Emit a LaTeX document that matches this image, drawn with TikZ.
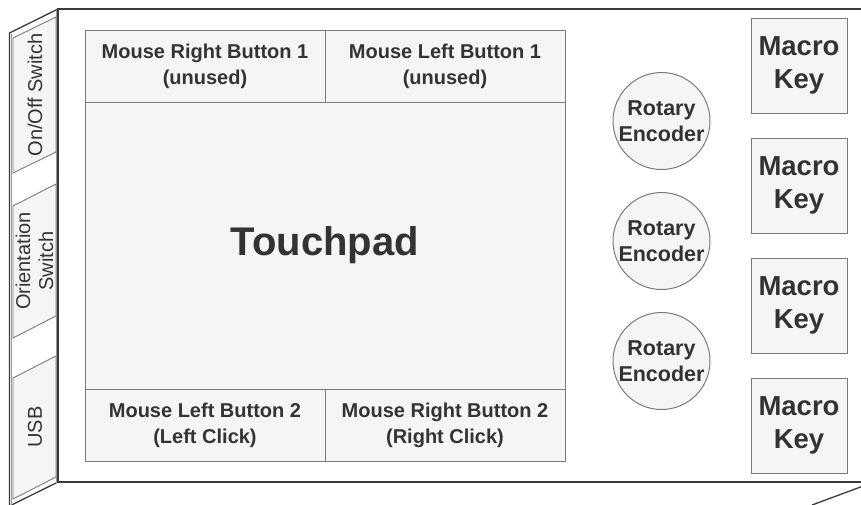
\documentclass[tikz,border=0pt]{standalone}
\usepackage{fontspec}
\setmainfont{Liberation Sans}
\definecolor{cellfill}{HTML}{F5F5F5}
\definecolor{cellline}{HTML}{7A7A7A}
\definecolor{txt}{HTML}{333333}
\definecolor{edgedark}{HTML}{3A3A3A}
\definecolor{edgelight}{HTML}{9A9A9A}
\begin{document}
\begin{tikzpicture}[x=1pt,y=-1pt,
  cell/.style={draw=cellline, fill=cellfill, line width=1pt, rectangle, inner sep=0pt, text=txt, align=center},
  btntext/.style={font=\bfseries\fontsize{20}{26}\selectfont},
  macrobox/.style={cell, minimum width=96pt, minimum height=95pt, font=\bfseries\fontsize{27.5}{33}\selectfont},
  encoder/.style={draw=cellline, fill=cellfill, line width=1pt, circle, minimum size=97pt, inner sep=0pt, text=txt, align=center, font=\bfseries\fontsize{21.5}{25.5}\selectfont},
  sidebox/.style={draw=cellline, fill=cellfill, line width=0.9pt},
  sidetext/.style={text=txt, align=center, rotate=90, inner sep=0pt, font=\fontsize{20}{23}\selectfont},
  cubeedge/.style={draw=edgedark, line width=1.3pt},
  cubeinner/.style={draw=edgelight, line width=0.8pt}]
\useasboundingbox (0,0) rectangle (861,504);
\begin{scope}
\clip (0,0) rectangle (861,504);
% cube outline
\coordinate (ftl) at (58,9);
\coordinate (fbl) at (58,482);
\coordinate (ftr) at (880,9);
\coordinate (fbr) at (880,482);
\coordinate (btl) at (9.5,33);
\coordinate (bbl) at (9.5,506);
\coordinate (brA) at (874,482);
\coordinate (brB) at (812,505);
\draw[cubeedge] (ftr) -- (ftl) -- (fbl) -- (fbr);
\draw[cubeedge] (ftl) -- (btl) -- (bbl);
\draw[cubeedge] (fbl) -- (bbl);
\draw[cubeinner] (11.8,34) -- (11.8,506);
\draw[cubeinner] (56,10) -- (56,483);
\draw[cubeedge] (brA) -- (brB);
\end{scope}
% side switches
\draw[sidebox] (13,38) -- (56,17) -- (56,152) -- (13,173) -- cycle;
\draw[sidebox] (13,206) -- (56,184) -- (56,316) -- (13,338) -- cycle;
\draw[sidebox] (13,378) -- (56,356) -- (56,477) -- (13,499) -- cycle;
\node[sidetext] (onoff) at (35,95) {On/Off Switch};
\node[sidetext] (orient) at (34.5,261) {Orientation\\Switch};
\node[sidetext] (usb) at (35,427) {USB};
% touchpad
\node[cell, minimum width=480pt, minimum height=287pt, font=\bfseries\fontsize{40}{48}\selectfont] (pad) at (325,245.5) {Touchpad};
\node[cell, btntext, minimum width=240pt, minimum height=72pt] (mr1) at (205,66) {Mouse Right Button 1\\(unused)};
\node[cell, btntext, minimum width=240pt, minimum height=72pt] (ml1) at (445,66) {Mouse Left Button 1\\(unused)};
\node[cell, btntext, minimum width=240pt, minimum height=72pt] (ml2) at (205,425) {Mouse Left Button 2\\(Left Click)};
\node[cell, btntext, minimum width=240pt, minimum height=72pt] (mr2) at (445,425) {Mouse Right Button 2\\(Right Click)};
% encoders
\node[encoder] (enc1) at (661.5,121) {Rotary\\Encoder};
\node[encoder] (enc2) at (661.5,241) {Rotary\\Encoder};
\node[encoder] (enc3) at (661.5,361) {Rotary\\Encoder};
% macro keys
\node[macrobox] (mk1) at (799,65.5) {Macro\\Key};
\node[macrobox] (mk2) at (799,185.5) {Macro\\Key};
\node[macrobox] (mk3) at (799,305.5) {Macro\\Key};
\node[macrobox] (mk4) at (799,425.5) {Macro\\Key};
\end{tikzpicture}
\end{document}
